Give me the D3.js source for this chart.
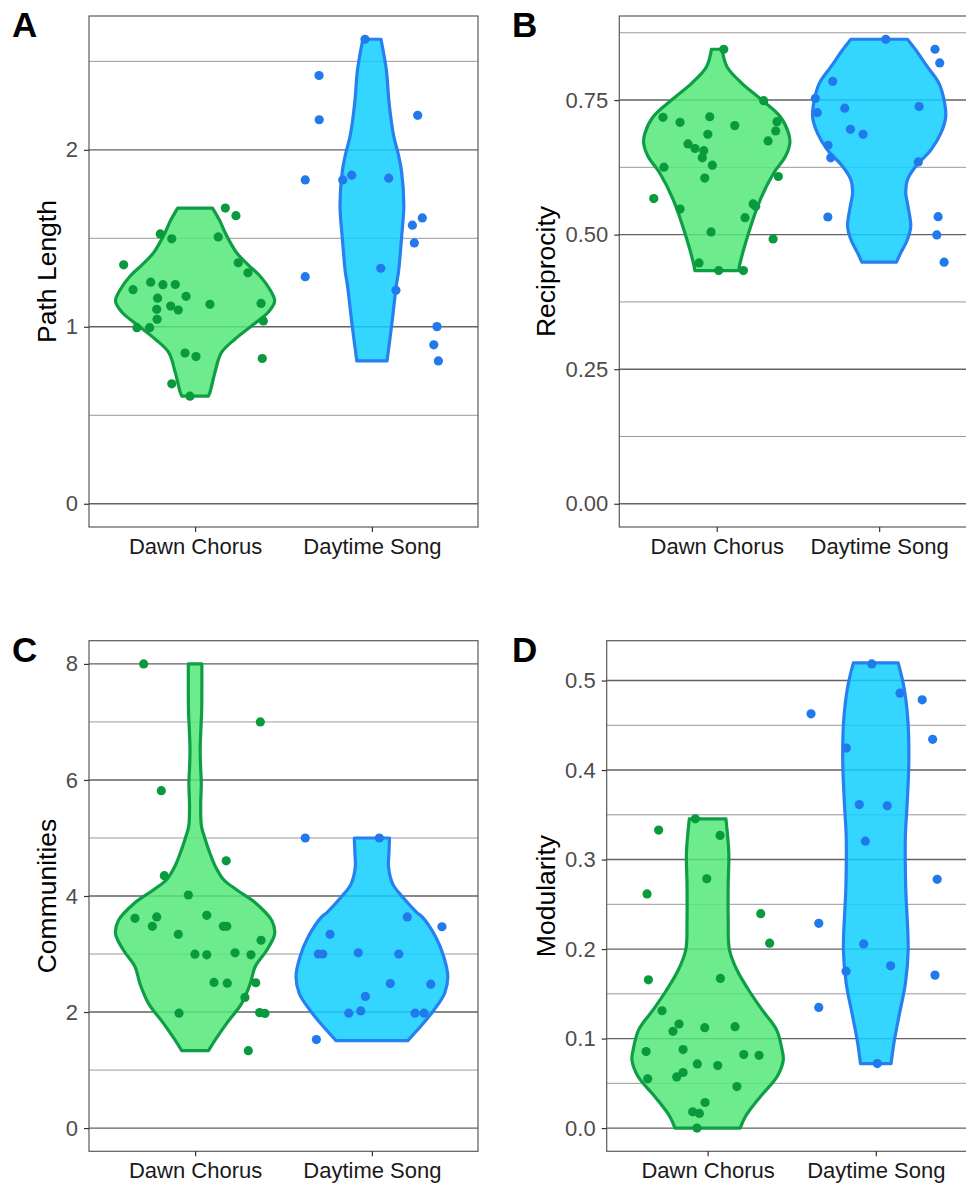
<!DOCTYPE html>
<html>
<head>
<meta charset="utf-8">
<script src="https://cdn.jsdelivr.net/npm/d3@7"></script>
<style>
  body { margin: 0; background: #fff; }
  svg { display: block; font-family: "Liberation Sans", Arial, sans-serif; }
</style>
</head>
<body>
<div id="chart"></div>
<script>
var svgWidth = 966;
var svgHeight = 1184;

var categories = ["Dawn Chorus", "Daytime Song"];

// points: [value, horizontal jitter in category units]
var pathDawn = [[1.671, 0.171], [1.628, 0.231], [1.525, -0.197], [1.497, -0.132], [1.508, 0.131],
  [1.350, -0.404], [1.362, 0.244], [1.305, 0.299], [1.21, -0.351], [1.252, -0.251], [1.238, -0.182],
  [1.239, -0.112], [1.162, -0.212], [1.172, -0.051], [1.127, 0.084], [1.132, 0.373], [1.099, -0.217],
  [1.117, -0.138], [1.095, -0.095], [1.042, -0.215], [1.033, 0.386], [0.995, -0.329], [0.995, -0.257],
  [0.852, -0.057], [0.832, 0.005], [0.821, 0.380], [0.678, -0.132], [0.608, -0.029]];
var pathDay = [[2.625, -0.039], [2.42, -0.299], [2.17, -0.298], [2.195, 0.259], [1.83, -0.377],
  [1.83, -0.165], [1.857, -0.114], [1.84, 0.095], [1.615, 0.285], [1.574, 0.229], [1.474, 0.240],
  [1.331, 0.050], [1.283, -0.377], [1.206, 0.136], [1.001, 0.368], [0.898, 0.350], [0.807, 0.376]];

var recipDawn = [[0.8444, 0.043], [0.7488, 0.289], [0.718, -0.331], [0.719, -0.043], [0.7087, -0.226],
  [0.7025, 0.111], [0.7099, 0.371], [0.6926, 0.363], [0.6864, -0.055], [0.674, 0.316], [0.6685, -0.177],
  [0.66, -0.134], [0.656, -0.080], [0.6426, -0.089], [0.629, -0.027], [0.6253, -0.325], [0.608, 0.379],
  [0.605, -0.074], [0.567, -0.388], [0.5475, -0.226], [0.557, 0.224], [0.5525, 0.240], [0.5315, 0.174],
  [0.505, -0.035], [0.492, 0.347], [0.4475, -0.109], [0.4333, 0.012], [0.4333, 0.164]];
var recipDay = [[0.863, 0.041], [0.8444, 0.344], [0.819, 0.373], [0.7846, -0.286], [0.753, -0.393],
  [0.7265, -0.381], [0.735, -0.212], [0.738, 0.246], [0.6957, -0.177], [0.6864, -0.099], [0.666, -0.315],
  [0.6426, -0.298], [0.635, 0.241], [0.5327, -0.316], [0.5333, 0.363], [0.4994, 0.355], [0.4488, 0.400]];

var commDawn = [[8, -0.291], [7, 0.369], [5.816, -0.191], [4.607, 0.176], [4.35, -0.174], [4.017, -0.038],
  [3.616, -0.340], [3.64, -0.217], [3.478, -0.242], [3.667, 0.066], [3.34, -0.095], [3.478, 0.160],
  [3.478, 0.179], [3.237, 0.373], [2.997, -0.001], [2.986, 0.066], [3.02, 0.226], [2.986, 0.316],
  [2.51, 0.107], [2.498, 0.182], [2.505, 0.343], [2.252, 0.282], [1.98, -0.091], [1.99, 0.365],
  [1.977, 0.395], [1.335, 0.301]];
var commDay = [[5, -0.377], [5, 0.042], [3.64, 0.200], [3.34, -0.237], [3.47, 0.396], [3.0, -0.303],
  [3.0, -0.278], [3.02, -0.077], [3.0, 0.152], [2.49, 0.104], [2.48, 0.333], [2.27, -0.037],
  [1.98, -0.131], [2.02, -0.063], [1.98, 0.244], [1.98, 0.295], [1.525, -0.314]];

var modDawn = [[0.3455, -0.073], [0.333, -0.291], [0.327, 0.074], [0.2786, -0.005], [0.2616, -0.360],
  [0.2396, 0.316], [0.2066, 0.369], [0.1657, -0.352], [0.1672, 0.076], [0.1311, -0.271], [0.1163, -0.170],
  [0.1081, -0.206], [0.1122, -0.017], [0.1133, 0.163], [0.0855, -0.366], [0.0877, -0.146], [0.0821, 0.215],
  [0.0813, 0.306], [0.0717, -0.061], [0.0699, 0.060], [0.0621, -0.146], [0.0572, -0.184], [0.055, -0.356],
  [0.0464, 0.174], [0.0286, -0.015], [0.0182, -0.089], [0.0164, -0.049], [0.0, -0.063]];
var modDay = [[0.5186, -0.024], [0.4859, 0.144], [0.4785, 0.276], [0.4628, -0.385], [0.4343, 0.338],
  [0.4246, -0.175], [0.3614, -0.098], [0.36, 0.068], [0.3206, -0.062], [0.2779, 0.365], [0.2288, -0.339],
  [0.2058, -0.072], [0.1813, 0.088], [0.1753, -0.177], [0.1709, 0.352], [0.1348, -0.339], [0.0721, 0.009]];

// violin outlines: [value, scaled density (1 = widest violin)]
var pathDawnViolin = [[1.671, 0.219], [1.60, 0.31], [1.532, 0.378], [1.42, 0.52], [1.35, 0.667],
  [1.286, 0.818], [1.211, 0.94], [1.145, 1.0], [1.082, 0.919], [1.005, 0.709], [0.93, 0.50],
  [0.855, 0.332], [0.742, 0.249], [0.629, 0.186], [0.608, 0.165]];
var pathDayViolin = [[2.625, 0.114], [2.45, 0.182], [2.27, 0.215], [2.085, 0.271], [1.97, 0.334],
  [1.88, 0.372], [1.69, 0.401], [1.50, 0.372], [1.31, 0.334], [1.24, 0.309], [1.0, 0.246], [0.807, 0.19]];

var recipDawnViolin = [[0.8444, 0.073], [0.812, 0.14], [0.781, 0.345], [0.75, 0.618], [0.719, 0.87],
  [0.688, 0.984], [0.67, 1.0], [0.645, 0.939], [0.614, 0.778], [0.565, 0.596], [0.503, 0.436],
  [0.441, 0.309], [0.4333, 0.30]];
var recipDayViolin = [[0.863, 0.387], [0.843, 0.501], [0.812, 0.659], [0.781, 0.819], [0.75, 0.888],
  [0.719, 0.911], [0.688, 0.843], [0.657, 0.706], [0.627, 0.501], [0.602, 0.387], [0.577, 0.364],
  [0.552, 0.396], [0.515, 0.432], [0.491, 0.387], [0.466, 0.295], [0.4488, 0.237]];

var commDawnViolin = [[8.0, 0.085], [7.6, 0.085], [7.2, 0.083], [6.85, 0.072], [6.52, 0.064], [6.2, 0.07],
  [5.95, 0.078], [5.54, 0.07], [5.2, 0.08], [5.03, 0.115], [4.8, 0.17], [4.51, 0.255], [4.28, 0.36],
  [4.1, 0.53], [3.88, 0.76], [3.58, 0.963], [3.35, 1.0], [3.065, 0.90], [2.78, 0.755], [2.49, 0.693],
  [2.15, 0.586], [1.805, 0.397], [1.52, 0.253], [1.335, 0.168]];
var commDayViolin = [[5.0, 0.221], [4.74, 0.214], [4.5, 0.209], [4.2, 0.264], [3.99, 0.381], [3.71, 0.569],
  [3.64, 0.632], [3.3, 0.799], [2.95, 0.904], [2.61, 0.954], [2.32, 0.913], [2.03, 0.778],
  [1.75, 0.611], [1.508, 0.451]];

var modDawnViolin = [[0.3455, 0.242], [0.307, 0.28], [0.272, 0.272], [0.235, 0.272], [0.199, 0.289],
  [0.176, 0.391], [0.154, 0.544], [0.132, 0.721], [0.11, 0.91], [0.087, 0.985], [0.076, 1.0],
  [0.0576, 0.919], [0.0353, 0.699], [0.013, 0.50], [0.0, 0.431]];
var modDayViolin = [[0.5197, 0.296], [0.493, 0.371], [0.4558, 0.424], [0.411, 0.437], [0.363, 0.415],
  [0.326, 0.391], [0.27, 0.395], [0.1987, 0.428], [0.1616, 0.391], [0.1245, 0.305], [0.0947, 0.239],
  [0.0721, 0.203]];

var pathTicks = [0, 1, 2];
var pathMinor = [0.5, 1.5, 2.5];
var recipTicks = [0, 0.25, 0.5, 0.75];
var recipMinor = [0.125, 0.375, 0.625, 0.875];
var commTicks = [0, 2, 4, 6, 8];
var commMinor = [1, 3, 5, 7];
var modTicks = [0, 0.1, 0.2, 0.3, 0.4, 0.5];
var modMinor = [0.05, 0.15, 0.25, 0.35, 0.45];

var colors = {
  dawn: { fill: "#55E779", stroke: "#0E9E45", point: "#0A9A3E" },
  day: { fill: "#10CFFF", stroke: "#2680F0", point: "#2279EC" }
};

var panels = [
  { letter: "A", letterPos: [12, 37], title: "Path Length", box: { left: 89, top: 16, right: 478, bottom: 527 },
    ticks: pathTicks, minor: pathMinor, fmt: d3.format("d"),
    series: [[pathDawn, pathDawnViolin], [pathDay, pathDayViolin]] },
  { letter: "B", letterPos: [512, 37], title: "Reciprocity", box: { left: 619.3, top: 16, right: 976.6, bottom: 527 },
    ticks: recipTicks, minor: recipMinor, fmt: d3.format(".2f"),
    series: [[recipDawn, recipDawnViolin], [recipDay, recipDayViolin]] },
  { letter: "C", letterPos: [12, 662], title: "Communities", box: { left: 89, top: 640.7, right: 478, bottom: 1151.3 },
    ticks: commTicks, minor: commMinor, fmt: d3.format("d"),
    series: [[commDawn, commDawnViolin], [commDay, commDayViolin]] },
  { letter: "D", letterPos: [512, 662], title: "Modularity", box: { left: 606.7, top: 640.7, right: 976.7, bottom: 1151.3 },
    ticks: modTicks, minor: modMinor, fmt: d3.format(".1f"),
    series: [[modDawn, modDawnViolin], [modDay, modDayViolin]] }
];

var svg = d3.select("#chart")
  .append("svg")
  .attr("width", svgWidth)
  .attr("height", svgHeight);

svg.append("rect")
  .attr("width", svgWidth)
  .attr("height", svgHeight)
  .attr("fill", "#fff");

panels.forEach(function (p) {
  var b = p.box;
  var g = svg.append("g");

  // y range: data range incl. zero, expanded by 5%
  var allVals = p.series[0][0].concat(p.series[1][0]).map(d => d[0]);
  var yMax = d3.max(allVals);
  var pad = yMax * 0.05;
  var y = d3.scaleLinear()
    .domain([0 - pad, yMax + pad])
    .range([b.bottom, b.top]);

  var x = d3.scalePoint()
    .domain(categories)
    .range([b.left, b.right])
    .padding(0.6);
  var halfWidth = 0.45 * x.step();

  // grid lines
  g.append("g").selectAll("line")
    .data(p.minor)
    .enter()
    .append("line")
    .attr("x1", b.left).attr("x2", b.right)
    .attr("y1", d => y(d)).attr("y2", d => y(d))
    .attr("stroke", "#9a9a9a")
    .attr("stroke-width", 1);

  g.append("g").selectAll("line")
    .data(p.ticks)
    .enter()
    .append("line")
    .attr("x1", b.left).attr("x2", b.right)
    .attr("y1", d => y(d)).attr("y2", d => y(d))
    .attr("stroke", "#626262")
    .attr("stroke-width", 1.4);

  // violins and points
  p.series.forEach(function (s, i) {
    var cat = categories[i];
    var col = i === 0 ? colors.dawn : colors.day;
    var cx = x(cat);

    var area = d3.area()
      .y(d => y(d[0]))
      .x0(d => cx - d[1] * halfWidth)
      .x1(d => cx + d[1] * halfWidth)
      .curve(d3.curveCatmullRom.alpha(0.5));

    g.append("path")
      .datum(s[1])
      .attr("d", area)
      .attr("fill", col.fill)
      .attr("fill-opacity", 0.85)
      .attr("stroke", col.stroke)
      .attr("stroke-width", 3.2)
      .attr("stroke-linejoin", "round");

    g.append("g").selectAll("circle")
      .data(s[0])
      .enter()
      .append("circle")
      .attr("cx", d => cx + d[1] * x.step())
      .attr("cy", d => y(d[0]))
      .attr("r", 4.6)
      .attr("fill", col.point);
  });

  // panel border
  g.append("rect")
    .attr("x", b.left)
    .attr("y", b.top)
    .attr("width", b.right - b.left)
    .attr("height", b.bottom - b.top)
    .attr("fill", "none")
    .attr("stroke", "#5a5a5a")
    .attr("stroke-width", 1.2);

  // axes
  var yAxis = g.append("g")
    .attr("transform", `translate(${b.left},0)`)
    .call(d3.axisLeft(y).tickValues(p.ticks).tickFormat(p.fmt).tickSize(5).tickPadding(6));
  yAxis.select(".domain").remove();
  yAxis.selectAll(".tick line").attr("stroke", "#333").attr("stroke-width", 1.2);
  yAxis.selectAll("text")
    .attr("fill", "#4d4d4d")
    .attr("font-size", 22)
    .attr("font-family", "Liberation Sans, Arial, sans-serif");

  var xAxis = g.append("g")
    .attr("transform", `translate(0,${b.bottom})`)
    .call(d3.axisBottom(x).tickSize(5).tickPadding(6));
  xAxis.select(".domain").remove();
  xAxis.selectAll(".tick line").attr("stroke", "#333").attr("stroke-width", 1.2);
  xAxis.selectAll("text")
    .attr("fill", "#1a1a1a")
    .attr("font-size", 22)
    .attr("font-family", "Liberation Sans, Arial, sans-serif");

  // y axis title, placed just left of the tick labels
  var labelBox = yAxis.node().getBBox();
  g.append("text")
    .attr("transform", `translate(${b.left + labelBox.x - 10},${(b.top + b.bottom) / 2}) rotate(-90)`)
    .attr("text-anchor", "middle")
    .attr("font-size", 26.5)
    .attr("fill", "#000")
    .text(p.title);

  // panel letter
  g.append("text")
    .attr("x", p.letterPos[0])
    .attr("y", p.letterPos[1])
    .attr("font-size", 35)
    .attr("font-weight", "bold")
    .attr("fill", "#000")
    .text(p.letter);
});
</script>
</body>
</html>
